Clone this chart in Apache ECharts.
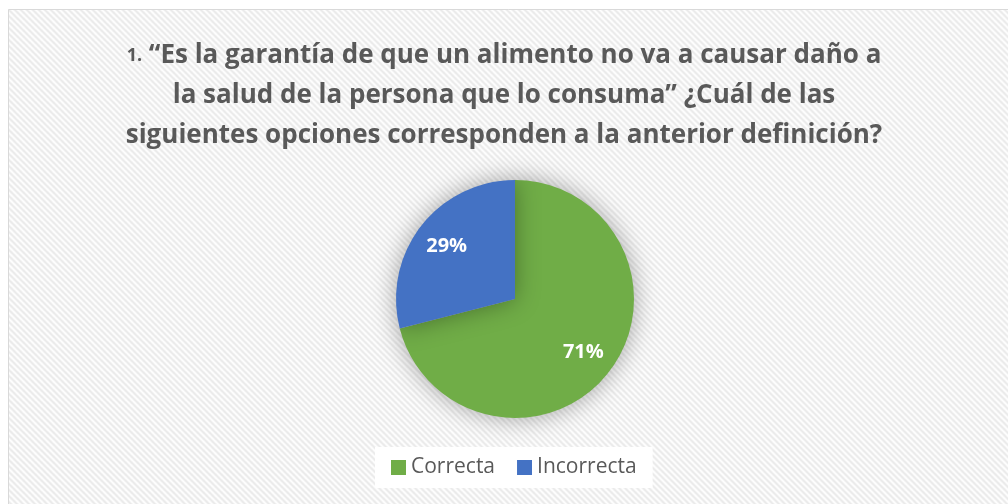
<!DOCTYPE html>
<html>
<head>
<meta charset="utf-8">
<script src="https://cdn.jsdelivr.net/npm/echarts@6/dist/echarts.min.js"></script>
<style>
  html, body { margin: 0; padding: 0; background: #fff; }
  #chart { width: 1008px; height: 504px; }
</style>
</head>
<body>
<div id="chart"></div>
<script>
// datos
const categorias = ['Correcta', 'Incorrecta'];
const valores = [71, 29];
const colores = ['#70AD47', '#4472C4'];

const tituloLineas = [
    '“Es la garantía de que un alimento no va a causar daño a',
    'la salud de la persona que lo consuma” ¿Cuál de las',
    'siguientes opciones corresponden a la anterior definición?'
];

// patrón de rayas diagonales del fondo
function crearRayas() {
    const n = 6;
    const c = document.createElement('canvas');
    c.width = n; c.height = n;
    const ctx = c.getContext('2d');
    ctx.fillStyle = '#ffffff';
    ctx.fillRect(0, 0, n, n);
    ctx.strokeStyle = '#e9e9e9';
    ctx.lineWidth = 2;
    ctx.beginPath();
    ctx.moveTo(-1, -1); ctx.lineTo(n + 1, n + 1);
    ctx.moveTo(-1, n - 1); ctx.lineTo(1, n + 1);
    ctx.moveTo(n - 1, -1); ctx.lineTo(n + 1, 1);
    ctx.stroke();
    return c;
}

const datos = categorias.map((c, i) => ({
    name: c,
    value: valores[i],
    itemStyle: { color: colores[i] }
}));

const chart = echarts.init(document.getElementById('chart'));

const option = {
    animation: false,
    graphic: [{
        type: 'rect',
        left: 8,
        top: 9,
        z: -10,
        shape: { width: 1010, height: 500 },
        style: {
            fill: { image: crearRayas(), repeat: 'repeat' },
            stroke: '#d9d9d9',
            lineWidth: 1
        }
    }],
    title: {
        left: 'center',
        top: 31,
        text: '{n|1.} ' + tituloLineas.join('\n'),
        textStyle: {
            fontFamily: 'Open Sans',
            fontWeight: 'bold',
            fontSize: 26,
            color: '#595959',
            lineHeight: 40,
            rich: {
                n: { fontFamily: 'Open Sans', fontWeight: 'bold', fontSize: 18, color: '#595959' }
            }
        }
    },
    legend: {
        data: categorias,
        left: 375,
        top: 447,
        icon: 'rect',
        itemWidth: 15,
        itemHeight: 15,
        itemGap: 22,
        itemStyle: { borderWidth: 0 },
        backgroundColor: '#ffffff',
        padding: [10, 16],
        textStyle: { fontFamily: 'Open Sans', fontSize: 21, color: '#595959' }
    },
    series: [
        {
            type: 'pie',
            center: [515, 299],
            radius: [0, 119],
            startAngle: 90,
            clockwise: true,
            data: datos,
            label: { show: false },
            labelLine: { show: false },
            itemStyle: {
                shadowBlur: 24,
                shadowColor: 'rgba(0,0,0,0.35)'
            },
            emphasis: { disabled: true }
        },
        {
            // serie invisible solo para colocar las etiquetas a ~0.7r
            type: 'pie',
            center: [515, 299],
            radius: [48, 119],
            startAngle: 90,
            clockwise: true,
            silent: true,
            data: datos.map(d => ({ name: d.name, value: d.value, itemStyle: { color: 'rgba(0,0,0,0)' } })),
            label: {
                show: true,
                position: 'inside',
                formatter: '{c}%',
                fontFamily: 'Open Sans',
                fontWeight: 'bold',
                fontSize: 20,
                color: '#ffffff'
            },
            labelLine: { show: false },
            emphasis: { disabled: true }
        }
    ]
};

chart.setOption(option);
</script>
</body>
</html>
